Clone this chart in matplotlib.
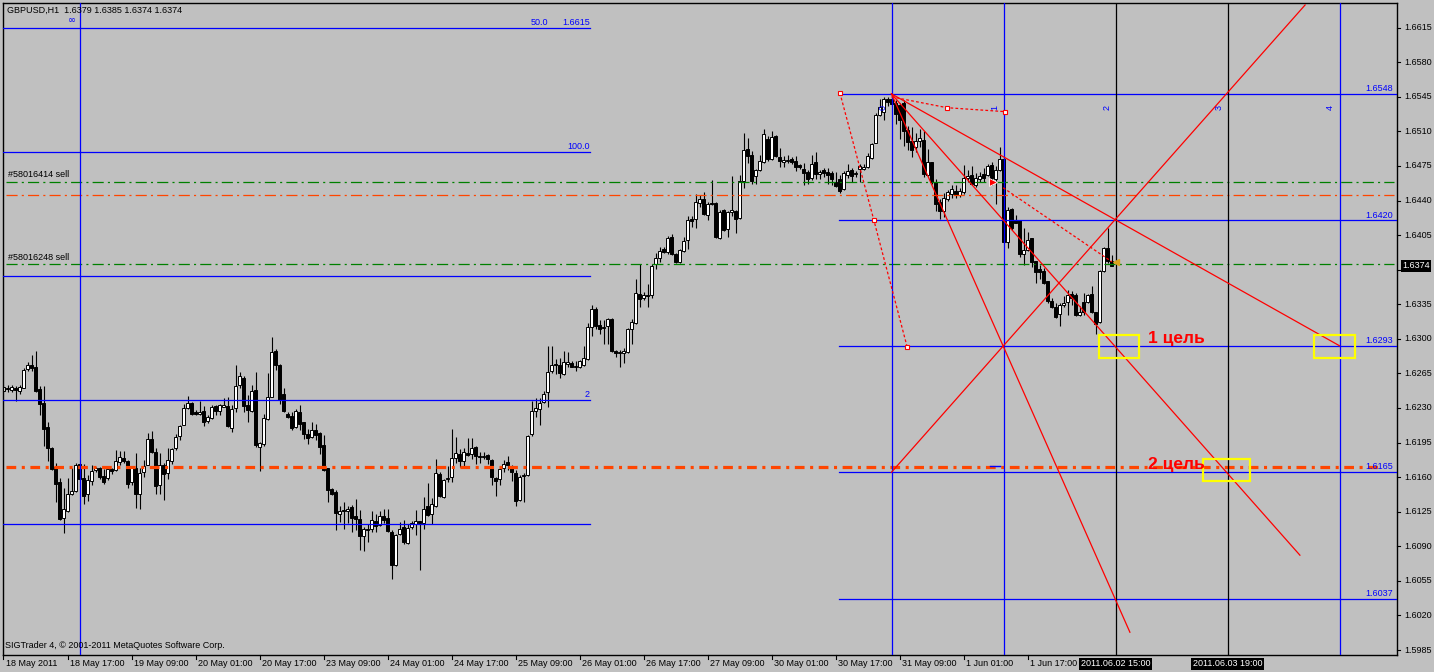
import numpy as np
import matplotlib
matplotlib.use("Agg")
import matplotlib.pyplot as plt
from matplotlib.patches import Rectangle
from matplotlib.transforms import blended_transform_factory

plt.rcParams['lines.scale_dashes'] = False
plt.rcParams['font.family'] = ['Liberation Sans', 'DejaVu Sans']

POINT = 0.0001  # prices below are stored in points (1.6247 -> 16247)

open_pts = [
    16247,16250,16248,16250,16247,16250,16269,16274,16272,16249,
    16235,16211,16190,16170,16155,16119,16126,16143,16146,16173,
    16159,16143,16156,16167,16169,16161,16159,16168,16167,16175,
    16179,16176,16155,16169,16143,16165,16172,16199,16185,16152,
    16172,16164,16176,16189,16202,16213,16230,16235,16226,16224,
    16227,16217,16220,16232,16227,16231,16232,16210,16230,16253,
    16260,16233,16227,16248,16191,16194,16219,16241,16288,16274,
    16244,16224,16222,16211,16226,16216,16204,16201,16208,16205,
    16193,16169,16148,16145,16123,16127,16126,16130,16121,16118,
    16100,16107,16107,16116,16112,16121,16119,16104,16071,16102,
    16110,16093,16110,16113,16116,16114,16131,16123,16131,16163,
    16140,16158,16160,16179,16183,16176,16184,16183,16191,16181,
    16180,16182,16177,16159,16158,16169,16175,16171,16164,16137,
    16161,16162,16204,16227,16229,16236,16246,16267,16275,16274,
    16264,16275,16276,16272,16271,16274,16280,16312,16330,16314,
    16311,16313,16320,16288,16286,16286,16287,16310,16316,16345,
    16341,16344,16344,16376,16382,16391,16388,16403,16386,16378,
    16389,16400,16421,16421,16438,16442,16425,16438,16438,16402,
    16430,16411,16428,16429,16422,16460,16492,16486,16465,16471,
    16479,16502,16482,16505,16484,16479,16480,16482,16480,16476,
    16472,16469,16463,16479,16467,16471,16469,16468,16459,16462,
    16452,16466,16471,16467,16472,16472,16474,16483,16498,16527,
    16530,16543,16543,16539,16537,16539,16511,16500,16494,16500,
    16501,16466,16479,16459,16439,16429,16442,16447,16450,16446,
    16449,16463,16466,16456,16462,16467,16466,16476,16462,16471,
    16482,16398,16431,16420,16420,16386,16390,16402,16379,16371,
    16369,16359,16338,16332,16325,16334,16337,16345,16344,16324,
    16337,16337,16345,16327,16317,16369,16392,16379]

high_pts = [
    16253,16253,16253,16252,16253,16270,16277,16284,16288,16252,
    16252,16216,16191,16174,16159,16149,16159,16169,16174,16174,
    16173,16162,16172,16170,16170,16168,16171,16169,16187,16186,
    16186,16177,16171,16184,16169,16177,16205,16207,16190,16184,
    16174,16189,16190,16204,16213,16234,16242,16236,16228,16237,
    16232,16223,16233,16233,16234,16240,16241,16233,16274,16266,
    16262,16243,16253,16266,16196,16224,16265,16302,16290,16275,
    16250,16226,16226,16229,16233,16216,16209,16216,16214,16206,
    16203,16169,16149,16147,16131,16135,16131,16132,16138,16127,
    16110,16113,16126,16123,16126,16128,16128,16106,16102,16115,
    16117,16113,16116,16127,16116,16140,16154,16139,16178,16165,
    16158,16171,16209,16201,16188,16189,16200,16200,16192,16185,
    16185,16183,16178,16160,16171,16177,16181,16172,16167,16162,
    16164,16203,16237,16240,16240,16247,16293,16293,16280,16281,
    16288,16287,16278,16278,16279,16293,16316,16334,16332,16319,
    16319,16321,16321,16289,16289,16291,16311,16320,16361,16376,
    16347,16356,16376,16387,16393,16393,16404,16406,16387,16391,
    16403,16424,16424,16447,16446,16449,16439,16461,16439,16430,
    16431,16429,16465,16430,16466,16508,16503,16490,16472,16486,
    16512,16505,16510,16506,16493,16485,16486,16484,16485,16477,
    16478,16471,16486,16489,16471,16473,16473,16470,16469,16466,
    16470,16477,16473,16470,16477,16477,16488,16498,16529,16543,
    16545,16545,16546,16542,16539,16542,16515,16514,16508,16512,
    16510,16492,16479,16462,16442,16448,16451,16456,16456,16453,
    16476,16471,16475,16468,16469,16473,16477,16479,16475,16494,
    16484,16433,16432,16425,16420,16412,16408,16402,16379,16375,
    16372,16359,16341,16336,16336,16343,16349,16348,16346,16333,
    16346,16345,16353,16327,16370,16393,16412,16385]

low_pts = [
    16246,16246,16246,16237,16244,16250,16267,16267,16246,16223,
    16192,16176,16167,16135,16117,16103,16125,16142,16145,16157,
    16133,16136,16152,16165,16158,16153,16157,16163,16166,16172,
    16174,16149,16152,16129,16128,16160,16172,16184,16143,16143,
    16137,16158,16173,16187,16198,16213,16229,16223,16223,16223,
    16212,16215,16219,16223,16223,16231,16211,16206,16226,16250,
    16226,16216,16226,16191,16166,16192,16218,16241,16268,16234,
    16226,16220,16208,16210,16208,16199,16194,16200,16198,16183,
    16166,16135,16142,16106,16115,16107,16114,16104,16106,16086,
    16085,16094,16104,16104,16111,16114,16104,16057,16070,16101,
    16092,16092,16107,16101,16066,16108,16121,16113,16130,16140,
    16139,16155,16155,16174,16170,16171,16181,16178,16173,16174,
    16178,16173,16152,16141,16152,16165,16167,16156,16131,16136,
    16135,16161,16202,16221,16213,16235,16231,16265,16264,16260,
    16263,16272,16271,16267,16270,16273,16279,16303,16310,16305,
    16295,16295,16287,16282,16272,16276,16286,16295,16315,16332,
    16339,16332,16341,16371,16378,16387,16386,16385,16377,16377,
    16388,16391,16413,16412,16433,16425,16420,16436,16402,16401,
    16409,16403,16424,16407,16421,16453,16478,16457,16457,16470,
    16478,16480,16481,16484,16474,16474,16478,16477,16470,16472,
    16456,16457,16461,16462,16462,16464,16457,16456,16454,16448,
    16451,16463,16459,16464,16459,16471,16473,16482,16498,16526,
    16522,16536,16536,16518,16502,16495,16491,16484,16489,16494,
    16464,16465,16457,16429,16421,16423,16440,16443,16443,16444,
    16447,16459,16456,16454,16459,16459,16465,16456,16437,16470,
    16397,16392,16410,16417,16383,16375,16389,16373,16357,16361,
    16356,16336,16331,16321,16313,16332,16324,16334,16323,16323,
    16324,16336,16326,16305,16316,16368,16377,16374]

close_pts = [
    16251,16249,16251,16248,16251,16268,16274,16270,16247,16234,
    16209,16189,16168,16153,16118,16128,16143,16146,16172,16158,
    16141,16157,16166,16169,16160,16155,16168,16166,16176,16180,
    16176,16153,16170,16143,16164,16171,16199,16185,16151,16172,
    16163,16177,16188,16201,16212,16230,16235,16224,16224,16226,
    16216,16221,16231,16227,16233,16233,16212,16229,16252,16262,
    16232,16228,16247,16193,16195,16220,16241,16287,16274,16238,
    16227,16221,16210,16227,16214,16204,16200,16208,16203,16191,
    16167,16147,16143,16124,16126,16126,16128,16119,16118,16100,
    16107,16106,16117,16111,16121,16117,16105,16071,16101,16108,
    16094,16109,16114,16116,16114,16128,16122,16133,16164,16141,
    16157,16159,16179,16184,16176,16185,16182,16189,16181,16180,
    16181,16178,16160,16156,16168,16173,16172,16165,16136,16160,
    16162,16202,16227,16230,16235,16244,16266,16274,16274,16265,
    16277,16277,16272,16273,16278,16281,16312,16330,16313,16310,
    16312,16320,16288,16286,16287,16288,16310,16317,16346,16340,
    16344,16343,16374,16382,16389,16388,16402,16386,16378,16390,
    16399,16420,16419,16439,16442,16426,16437,16437,16403,16428,
    16410,16428,16430,16421,16460,16491,16485,16460,16471,16480,
    16507,16482,16504,16485,16480,16481,16481,16479,16474,16474,
    16468,16462,16477,16467,16469,16468,16466,16462,16455,16450,
    16468,16470,16465,16468,16475,16474,16485,16497,16527,16535,
    16543,16540,16538,16528,16522,16510,16499,16491,16500,16503,
    16467,16479,16459,16437,16429,16443,16449,16452,16446,16450,
    16463,16465,16457,16463,16465,16463,16475,16463,16471,16482,
    16398,16430,16412,16417,16386,16390,16400,16378,16368,16368,
    16357,16338,16332,16322,16334,16336,16344,16341,16324,16327,
    16327,16344,16327,16315,16369,16392,16379,16374]

# x-axis labels (one every 16 hourly bars)
time_labels = ["18 May 2011", "18 May 17:00", "19 May 09:00", "20 May 01:00",
               "20 May 17:00", "23 May 09:00", "24 May 01:00", "24 May 17:00",
               "25 May 09:00", "26 May 01:00", "26 May 17:00", "27 May 09:00",
               "30 May 01:00", "30 May 17:00", "31 May 09:00", "1 Jun 01:00",
               "1 Jun 17:00"]
time_label_bars = [0, 16, 32, 48, 64, 80, 96, 112, 128, 144, 160, 176, 192,
                   208, 224, 240, 256]
marked_times = ["2011.06.02 15:00", "2011.06.03 19:00"]
marked_bars = [278, 306]

price_ticks = [1.6615, 1.6580, 1.6545, 1.6510, 1.6475, 1.6440, 1.6405, 1.6370,
               1.6335, 1.6300, 1.6265, 1.6230, 1.6195, 1.6160, 1.6125, 1.6090,
               1.6055, 1.6020, 1.5985]
last_price = 1.6374

# objects
vline_bars = [19, 222, 250, 278, 306, 334]
vline_colors = ["#0000FF", "#0000FF", "#0000FF", "#000000", "#000000", "#0000FF"]
fib_left_levels = [1.6615, 1.64892, 1.63636, 1.62380, 1.61125]
fib_left_end_bar = 146.6
fib_right_levels = [1.6548, 1.6420, 1.6293, 1.6165, 1.6037]
fib_right_labels = ["1.6548", "1.6420", "1.6293", "1.6165", "1.6037"]
fib_right_start_bar = 208.9
order_levels = [1.64590, 1.63758]
order_labels = ["#58016414 sell", "#58016248 sell"]
orange_thin_level = 1.64456
orange_thick_level = 1.61703

gann_lines = [([222, 281.6], [1.6548, 1.6003]),
              ([222, 324.1], [1.6548, 1.6081]),
              ([222, 334.0], [1.6548, 1.6293]),
              ([222, 325.4], [1.6165, 1.6638])]
dashed_lines = [([209.1, 217.6, 225.9], [1.6549, 1.6420, 1.6292]),
                ([222.0, 235.9, 250.4], [1.6545, 1.6534, 1.6530]),
                ([249.9, 277.1], [1.6453, 1.6378])]
target_boxes = [(273.9, 1.6281, 283.9, 1.6304),
                (299.9, 1.6156, 311.6, 1.6178),
                (327.6, 1.6281, 337.9, 1.6304)]
target_texts = ["1 цель", "2 цель"]
target_text_pos = [(286.0, 1.62999), (286.0, 1.61723)]
timezone_labels = ["0", "1", "2", "3", "4"]
timezone_bars = [222, 250, 278, 306, 334]

BG = "#C0C0C0"
W, H = 1434, 672
fig = plt.figure(figsize=(W / 100, H / 100), dpi=100, facecolor=BG)
ax = fig.add_axes([3 / W, 17 / H, 1394 / W, 652 / H], facecolor=BG)
ax.set_xlim(-0.125, 348.375)
ax.set_ylim(1.597995, 1.664)
for s in ax.spines.values():
    s.set_color("black")
    s.set_linewidth(1.0)
ax.set_xticks([])
ax.set_yticks([])

n = len(close_pts)
x = np.arange(n)
o = np.array(open_pts) * POINT
h = np.array(high_pts) * POINT
l = np.array(low_pts) * POINT
c = np.array(close_pts) * POINT

FS = 6.5
BLUE = "#0000FF"
RED = "#FF0000"
ORANGE = "#FF4500"
GREEN = "#008000"

# horizontal objects
for lv in fib_left_levels:
    ax.plot([-0.125, fib_left_end_bar], [lv, lv], color=BLUE, lw=0.9, zorder=3)
ax.text(136.1, fib_left_levels[0] + 0.00008, "50.0", color=BLUE, fontsize=FS,
        ha="right", va="bottom", zorder=5)
ax.text(fib_left_end_bar, fib_left_levels[0] + 0.00008, "1.6615", color=BLUE,
        fontsize=FS, ha="right", va="bottom", zorder=5)
ax.text(fib_left_end_bar, fib_left_levels[1] + 0.00008, "100.0", color=BLUE,
        fontsize=FS, ha="right", va="bottom", zorder=5)
ax.text(fib_left_end_bar, fib_left_levels[3] + 0.00008, "2", color=BLUE,
        fontsize=FS, ha="right", va="bottom", zorder=5)

for lv, lab in zip(fib_right_levels, fib_right_labels):
    ax.plot([fib_right_start_bar, 348.375], [lv, lv], color=BLUE, lw=0.9, zorder=3)
    ax.text(347.4, lv + 0.00008, lab, color=BLUE, fontsize=FS, ha="right",
            va="bottom", zorder=5)

dd = (0, (8, 3, 1.5, 3))
for lv, lab in zip(order_levels, order_labels):
    ax.plot([0.5, 347.5], [lv, lv], color=GREEN, lw=0.9, linestyle=dd, zorder=3)
    ax.text(1.1, lv + 0.00025, lab, color="black", fontsize=FS, ha="left",
            va="bottom", zorder=5)
ax.plot([0.5, 347.5], [orange_thin_level] * 2, color=ORANGE, lw=0.9,
        linestyle=dd, zorder=3)
ax.plot([0.5, 344.5], [orange_thick_level] * 2, color=ORANGE, lw=2.3,
        linestyle=(0, (7, 4, 2.2, 4)), zorder=3)
ax.plot([246.6, 249.1], [1.6171, 1.6171], color=BLUE, lw=1.0, zorder=3)

# vertical lines
for b, col in zip(vline_bars, vline_colors):
    ax.axvline(b, color=col, lw=0.9, zorder=3)
ax.text(17.1, 1.66228, "∞", color=BLUE, fontsize=7, ha="center", va="center",
        family="DejaVu Sans", zorder=5)
for lab, b in zip(timezone_labels, timezone_bars):
    ax.text(b - 2.2, 1.6534, lab, color=BLUE, fontsize=FS, rotation=90,
            ha="center", va="center", zorder=5)

# candles
bull = c >= o
ax.vlines(x, l, h, color="black", lw=0.8, zorder=2)
ax.bar(x, np.abs(c - o), bottom=np.minimum(o, c), width=0.7,
       color=np.where(bull, "white", "black"), edgecolor="black",
       linewidth=0.7, zorder=2.5)

# red objects
for xs, ys in gann_lines:
    ax.plot(xs, ys, color=RED, lw=0.9, zorder=4)
for xs, ys in dashed_lines:
    ax.plot(xs, ys, color=RED, lw=0.9, linestyle=(0, (2, 1.6)), zorder=4)
for xs, ys in dashed_lines[:2]:
    ax.plot(xs[1:], ys[1:], linestyle="none", marker="s", ms=3, mfc="white",
            mec=RED, mew=0.8, zorder=5)
ax.plot([dashed_lines[0][0][0]], [dashed_lines[0][1][0]], linestyle="none",
        marker="s", ms=3, mfc="white", mec=RED, mew=0.8, zorder=5)

for x0, y0, x1, y1 in target_boxes:
    ax.add_patch(Rectangle((x0, y0), x1 - x0, y1 - y0, fill=False,
                           edgecolor="#FFFF00", lw=1.6, zorder=5))
for txt, (tx, ty) in zip(target_texts, target_text_pos):
    ax.text(tx, ty, txt, color=RED, fontsize=12.5, fontweight="bold",
            ha="left", va="center", zorder=6)

ax.plot([247.3], [1.6459], marker=">", ms=6, color=RED, mec="white", mew=0.6,
        linestyle="none", zorder=6)
ax.plot([278.0], [1.6378], marker="<", ms=5, color="#DAA520", linestyle="none",
        zorder=6)

# header / footer texts
fig.text(7 / W, 1 - 10 / H, "GBPUSD,H1  1.6379 1.6385 1.6374 1.6374",
         fontsize=FS, ha="left", va="center", color="black")
fig.text(5 / W, 1 - 646 / H, "SIGTrader 4, © 2001-2011 MetaQuotes Software Corp.",
         fontsize=FS, ha="left", va="center", color="black")

# right price axis
ytr = blended_transform_factory(fig.transFigure, ax.transData)
for p in price_ticks:
    fig.lines.append(plt.Line2D([1397 / W, 1400 / W], [p, p], color="black",
                                lw=0.8, transform=ytr))
    if abs(p - last_price) < 0.0010:
        continue  # this label is covered by the current-price box
    fig.text(1404 / W, p, f"{p:.4f}", transform=ytr, fontsize=FS, ha="left",
             va="center", color="black")
fig.text(1416 / W, last_price, f"{last_price:.4f}", transform=ytr, fontsize=FS,
         ha="center", va="center", color="white",
         bbox=dict(boxstyle="square,pad=0.18", fc="black", ec="none"))

# bottom time axis
xtr = blended_transform_factory(ax.transData, fig.transFigure)
for lab, b in zip(time_labels, time_label_bars):
    fig.lines.append(plt.Line2D([b, b], [1 - 655 / H, 1 - 659 / H], color="black",
                                lw=0.8, transform=xtr))
    fig.text(b + 0.5, 1 - 664 / H, lab, transform=xtr, fontsize=FS, ha="left",
             va="center", color="black")
for lab, b in zip(marked_times, marked_bars):
    fig.text(b, 1 - 664 / H, lab, transform=xtr, fontsize=FS, ha="center",
             va="center", color="white",
             bbox=dict(boxstyle="square,pad=0.18", fc="black", ec="none"))

fig.savefig("out.png", dpi=100, facecolor=BG)
